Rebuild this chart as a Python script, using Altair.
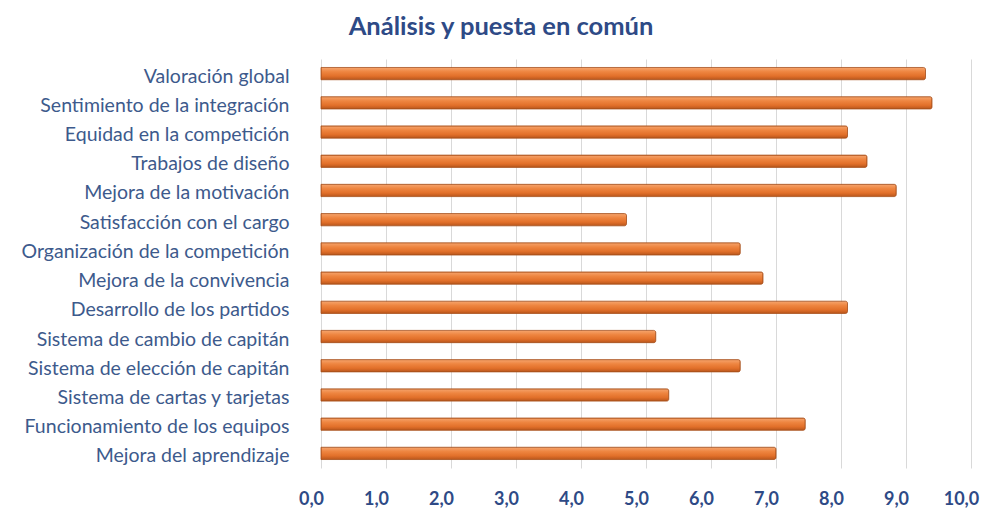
import altair as alt
import pandas as pd

categories = [
    "Valoración global",
    "Sentimiento de la integración",
    "Equidad en la competición",
    "Trabajos de diseño",
    "Mejora de la motivación",
    "Satisfacción con el cargo",
    "Organización de la competición",
    "Mejora de la convivencia",
    "Desarrollo de los partidos",
    "Sistema de cambio de capitán",
    "Sistema de elección de capitán",
    "Sistema de cartas y tarjetas",
    "Funcionamiento de los equipos",
    "Mejora del aprendizaje",
]
values = [9.3, 9.4, 8.1, 8.4, 8.85, 4.7, 6.45, 6.8, 8.1, 5.15, 6.45, 5.35, 7.45, 7.0]
x_ticks = [0, 1, 2, 3, 4, 5, 6, 7, 8, 9, 10]

df = pd.DataFrame({"cat": categories, "val": values})

title_blue = "#2E4A86"
label_blue = "#3D5A8C"
font = "Lato"

grad = alt.Gradient(
    gradient="linear",
    stops=[
        alt.GradientStop(color="#F6A56E", offset=0),
        alt.GradientStop(color="#EE8540", offset=0.35),
        alt.GradientStop(color="#E2702A", offset=0.7),
        alt.GradientStop(color="#B9561C", offset=1),
    ],
    x1=0, x2=0, y1=0, y2=1,
)

chart = (
    alt.Chart(df)
    .mark_bar(color=grad, stroke="#A9501C", strokeWidth=0.8, cornerRadiusEnd=2)
    .encode(
        x=alt.X(
            "val:Q",
            scale=alt.Scale(domain=[0, 10], nice=False),
            axis=alt.Axis(
                values=x_ticks,
                format=".1f",
                title=None,
                grid=True,
                gridColor="#D9D9D9",
                domain=False,
                ticks=False,
                labelFont=font,
                labelFontSize=18,
                labelFontWeight="bold",
                labelColor=title_blue,
                labelPadding=22,
                labelOffset=-10,
                labelFlush=False,
            ),
        ),
        y=alt.Y(
            "cat:N",
            sort=categories,
            scale=alt.Scale(paddingInner=0.58, paddingOuter=0.29),
            axis=alt.Axis(
                title=None,
                domain=False,
                ticks=False,
                labelFont=font,
                labelFontSize=19.5,
                labelColor=label_blue,
                labelPadding=32,
                labelOffset=3,
                labelLimit=0,
            ),
        ),
    )
    .properties(
        width=650,
        height=409,
        title=alt.TitleParams(
            "Análisis y puesta en común",
            font=font,
            fontSize=25.5,
            fontWeight="bold",
            color=title_blue,
            anchor="middle",
            dx=-145,
            offset=19,
        ),
        padding={"left": 313, "top": 51, "right": 20, "bottom": 45},
        autosize=alt.AutoSizeParams(type="none"),
    )
    .configure(
        background="white",
        numberFormatType="d3",
        locale={"number": {"decimal": ",", "thousands": ".", "grouping": [3], "currency": ["", " €"]}},
    )
    .configure_view(stroke=None)
)

chart.save("out.html", embed_options={"renderer": "svg", "actions": False})
